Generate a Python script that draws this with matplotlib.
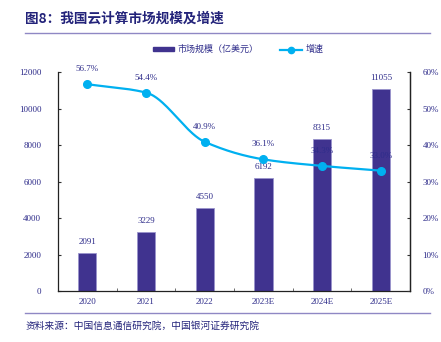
import numpy as np
import matplotlib
matplotlib.use("Agg")
import matplotlib.pyplot as plt
from matplotlib.lines import Line2D
from matplotlib.patches import Patch

plt.rcParams['font.family'] = ['Liberation Serif', 'Noto Serif CJK SC', 'Noto Sans CJK SC', 'DejaVu Sans']

years = ["2020", "2021", "2022", "2023E", "2024E", "2025E"]
market_size = [2091, 3229, 4550, 6192, 8315, 11055]
growth = [56.7, 54.4, 40.9, 36.1, 34.3, 33.0]

navy = "#2E2C8A"
bar_color = "#40338F"
line_color = "#00B0F0"
cjk = ['Noto Sans CJK SC', 'DejaVu Sans']


def monotone_curve(xs, ys, n=40):
    """Monotone cubic (Fritsch-Carlson) curve through the given points."""
    xs = np.asarray(xs, float)
    ys = np.asarray(ys, float)
    h = np.diff(xs)
    d = np.diff(ys) / h
    m = np.zeros_like(ys)
    m[0], m[-1] = d[0], d[-1]
    for i in range(1, len(xs) - 1):
        if d[i - 1] * d[i] <= 0:
            m[i] = 0.0
        else:
            w1 = 2 * h[i] + h[i - 1]
            w2 = h[i] + 2 * h[i - 1]
            m[i] = (w1 + w2) / (w1 / d[i - 1] + w2 / d[i])
    out_x, out_y = [], []
    t = np.linspace(0, 1, n)
    for i in range(len(xs) - 1):
        h00 = 2 * t**3 - 3 * t**2 + 1
        h10 = t**3 - 2 * t**2 + t
        h01 = -2 * t**3 + 3 * t**2
        h11 = t**3 - t**2
        out_x.extend(xs[i] + t * h[i])
        out_y.extend(h00 * ys[i] + h10 * h[i] * m[i] + h01 * ys[i + 1] + h11 * h[i] * m[i + 1])
    return np.array(out_x), np.array(out_y)


fig = plt.figure(figsize=(4.41, 3.42), dpi=100)
fig.patch.set_facecolor("white")

ax = fig.add_axes([0.1315, 0.149, 0.7985, 0.640])
x = np.arange(len(years))
ax.bar(x, market_size, width=0.31, color=bar_color, edgecolor="#9A94CC", linewidth=0.6, zorder=2)
for xi, v in zip(x, market_size):
    ax.text(xi, v + 380, f"{v}", ha="center", va="bottom", fontsize=6.5, color=navy, zorder=5)

ax.set_xlim(-0.5, len(years) - 0.5)
ax.set_ylim(0, 12000)
ax.set_yticks(np.arange(0, 12001, 2000))
ax.set_yticklabels([str(v) for v in range(0, 12001, 2000)], fontsize=6.5, color=navy)
ax.set_xticks(x)
ax.set_xticklabels(years, fontsize=6.5, color=navy)
ax.set_xticks(np.arange(0.5, len(years) - 0.5, 1), minor=True)
ax.tick_params(axis="x", which="major", length=0, pad=5)
ax.tick_params(axis="x", which="minor", length=2, direction="in", color="#555555")
ax.tick_params(axis="y", length=2, direction="in", pad=12, color="#333333")
ax.spines["top"].set_visible(False)
for s in ("left", "bottom", "right"):
    ax.spines[s].set_color("#222222")
    ax.spines[s].set_linewidth(0.9)

ax2 = ax.twinx()
ax2.set_ylim(0, 60)
ax2.set_yticks(np.arange(0, 61, 10))
ax2.set_yticklabels([f"{v}%" for v in range(0, 61, 10)], fontsize=6.5, color=navy)
ax2.tick_params(axis="y", length=2, direction="in", pad=9, color="#333333")
ax2.spines["top"].set_visible(False)
ax2.spines["left"].set_visible(False)
ax2.spines["bottom"].set_visible(False)
ax2.spines["right"].set_color("#222222")
ax2.spines["right"].set_linewidth(0.9)

sx, sy = monotone_curve(x, growth)
ax2.plot(sx, sy, color=line_color, linewidth=1.6, zorder=3)
ax2.plot(x, growth, linestyle="none", marker="o", markersize=5.5, color=line_color, zorder=4)
for xi, g in zip(x, growth):
    ax2.text(xi, g + 3.0, f"{g:.1f}%", ha="center", va="bottom", fontsize=6.5, color=navy, zorder=5)

# Title and rules
fig.text(0.057, 0.945, "图8：我国云计算市场规模及增速", fontsize=9.8, fontweight="bold",
         color="#23237A", ha="left", va="center", family=cjk)
fig.add_artist(Line2D([0.057, 0.975], [0.904, 0.904], color="#8F88C4", linewidth=1.0))
fig.add_artist(Line2D([0.057, 0.975], [0.085, 0.085], color="#8F88C4", linewidth=1.0))
fig.text(0.057, 0.048, "资料来源：中国信息通信研究院，中国银河证券研究院", fontsize=7.0, style="italic",
         color="#23237A", ha="left", va="center", family=cjk)

handles = [Patch(facecolor=bar_color, edgecolor=bar_color),
           Line2D([0], [0], color=line_color, linewidth=1.6, marker="o", markersize=4.5)]
leg = fig.legend(handles, ["市场规模（亿美元）", "增速"], loc="center", bbox_to_anchor=(0.54, 0.855),
                 ncol=2, frameon=False, handlelength=2.4, handleheight=0.35,
                 columnspacing=2.4, handletextpad=0.4, prop={'family': cjk, 'size': 6.5})
for t in leg.get_texts():
    t.set_color(navy)

fig.savefig("out.png", dpi=100, facecolor="white")
